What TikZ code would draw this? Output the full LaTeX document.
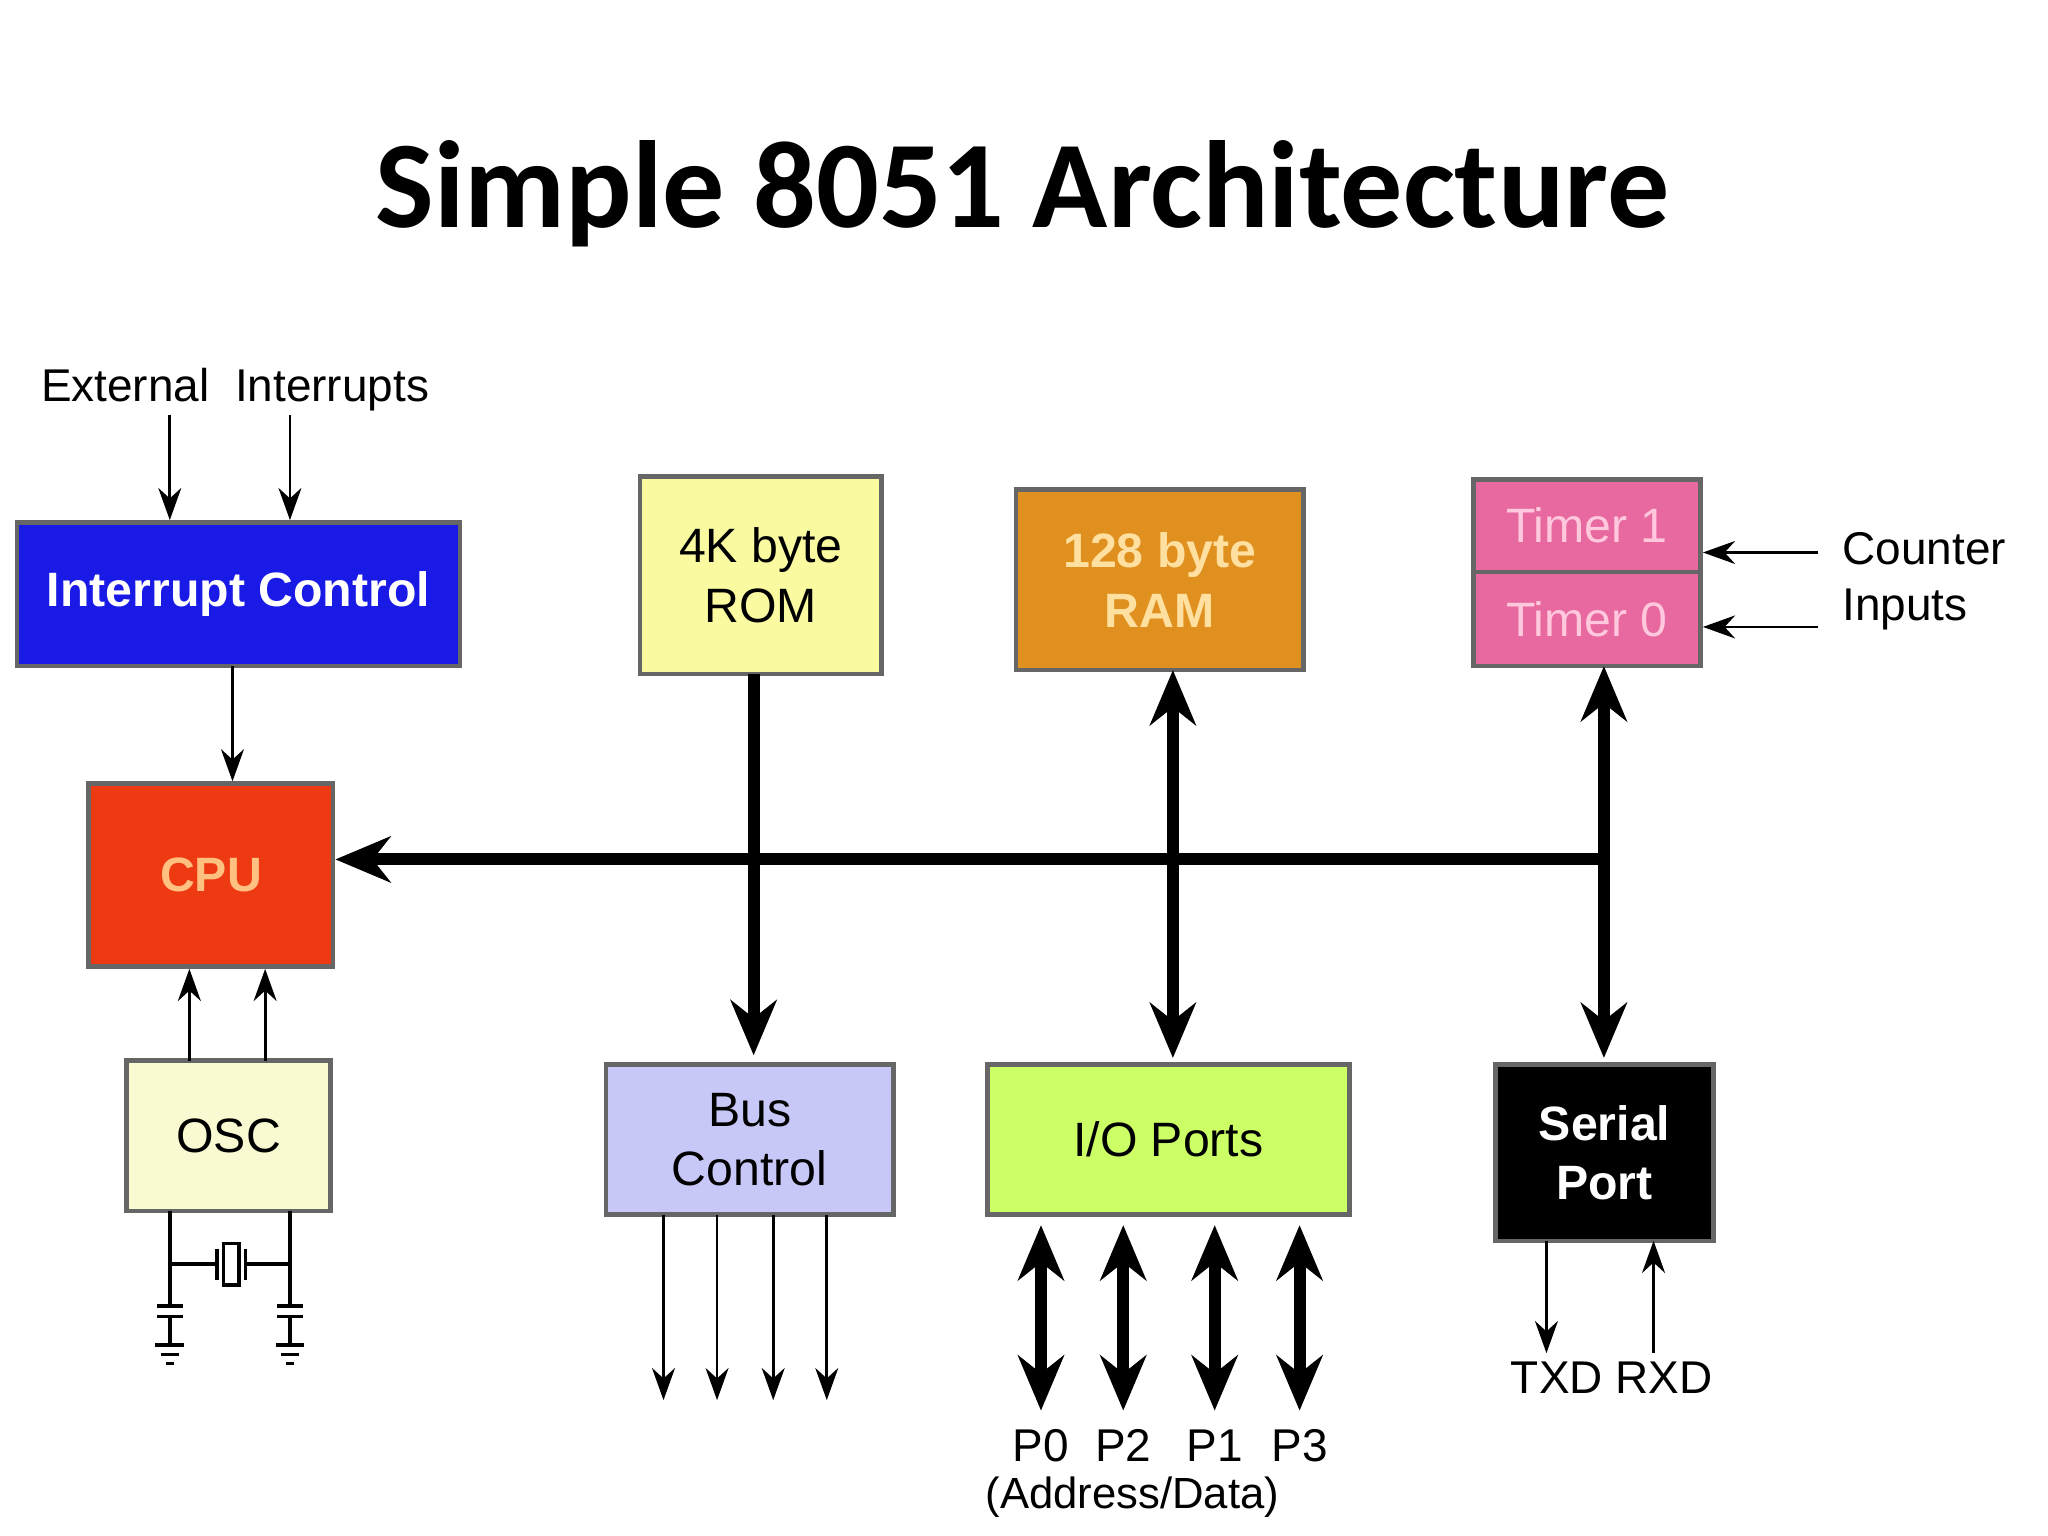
\documentclass[tikz,border=0pt]{standalone}
\usepackage{fontspec}
\setmainfont{Liberation Sans}
\newfontfamily\titlefont{Carlito}
\usetikzlibrary{arrows.meta}
\definecolor{icblue}{HTML}{1A1AE6}
\definecolor{cpured}{HTML}{EE3A12}
\definecolor{cputxt}{HTML}{FFC080}
\definecolor{oscyel}{HTML}{FAFAD2}
\definecolor{romyel}{HTML}{FAFAA0}
\definecolor{ramorg}{HTML}{E0901E}
\definecolor{ramtxt}{HTML}{FFE0A0}
\definecolor{tmpink}{HTML}{E868A0}
\definecolor{tmtxt}{HTML}{FFC8DC}
\definecolor{buslav}{HTML}{C8C8F8}
\definecolor{iogrn}{HTML}{CCFF66}
\begin{document}
\begin{tikzpicture}[x=0.01cm,y=-0.01cm,
  box/.style={draw=black!60,line width=1pt,inner sep=0pt,align=center,font=\fontsize{10.5}{13}\selectfont},
  bbox/.style={box,font=\bfseries\fontsize{10.5}{13}\selectfont},
  thin arrow/.style={-{Stealth[length=7pt,width=5pt]},line width=0.6pt},
  bus/.style={line width=2.6pt,-{Stealth[length=12pt,width=10pt]}},
  dbus/.style={line width=2.6pt,{Stealth[length=12pt,width=10pt]}-{Stealth[length=12pt,width=10pt]}},
  lbl/.style={inner sep=0pt,font=\fontsize{10}{12}\selectfont}]
\useasboundingbox (0,0) rectangle (1568,1176);
\fill[white] (0,0) rectangle (1568,1176);

\node[inner sep=0pt,font=\titlefont\bfseries\fontsize{27}{32}\selectfont] (title) at (783,148) {Simple 8051 Architecture};

% boxes
\node[bbox,fill=icblue,text=white,minimum width=3.39cm,minimum height=1.10cm] (ic) at (182.5,455) {Interrupt\ Control};
\node[bbox,fill=cpured,text=cputxt,minimum width=1.87cm,minimum height=1.40cm] (cpu) at (161.5,670) {CPU};
\node[box,fill=oscyel,minimum width=1.56cm,minimum height=1.15cm] (osc) at (175,869.5) {OSC};
\node[box,fill=romyel,minimum width=1.85cm,minimum height=1.51cm] (rom) at (582.5,440.5) {4K byte\\ROM};
\node[bbox,fill=ramorg,text=ramtxt,minimum width=2.20cm,minimum height=1.38cm] (ram) at (888,444) {128 byte\\RAM};
\node[box,fill=tmpink,text=tmtxt,minimum width=1.74cm,minimum height=0.71cm] (t1) at (1215,402.5) {Timer 1};
\node[box,fill=tmpink,text=tmtxt,minimum width=1.74cm,minimum height=0.72cm] (t0) at (1215,474) {Timer 0};
\node[box,fill=buslav,minimum width=2.20cm,minimum height=1.15cm] (bc) at (574,872.5) {Bus\\Control};
\node[box,fill=iogrn,minimum width=2.77cm,minimum height=1.15cm] (io) at (894.5,872.5) {I/O Ports};
\node[bbox,fill=black,text=white,minimum width=1.67cm,minimum height=1.35cm] (sp) at (1228.5,882.5) {Serial\\Port};

% labels
\node[lbl] (ext) at (180,298) {External\ \ Interrupts};
\node[lbl,anchor=west] (cnt1) at (1410,420) {Counter};
\node[lbl,anchor=west] (cnt2) at (1410,467) {Inputs};
\coordinate (e1) at (130,318); \coordinate (e2) at (222,318);
\draw[thin arrow] (e1) -- (e1|-ic.north);
\draw[thin arrow] (e2) -- (e2|-ic.north);
\coordinate (icc) at (178,510); \coordinate (o1) at (145,812); \coordinate (o2) at (203,812);
\draw[thin arrow] (icc) -- (icc|-cpu.north);
\draw[thin arrow] (o1) -- (o1|-cpu.south);
\draw[thin arrow] (o2) -- (o2|-cpu.south);
\coordinate (c1) at (1392,423); \coordinate (c0) at (1392,480);
\draw[thin arrow] (c1) -- (t1.east|-c1);
\draw[thin arrow] (c0) -- (t0.east|-c0);

% buses
\coordinate (jn) at (1228,658);
\draw[bus] (jn) -- (cpu.east|-jn);
\draw[bus] (577,516) -- (577,808);
\draw[dbus] (898,513) -- (898,810);
\draw[dbus] (1228,510) -- (1228,810);

% bus control outputs
\foreach \x in {508,549,592,633}
  \draw[thin arrow] (\x,930) -- (\x,1072);
% io ports
\foreach \x/\t in {797/P0,860/P2,930/P1,995/P3}{
  \draw[dbus] (\x,938) -- (\x,1080);
  \node[lbl] at (\x,1107) {\t};}
\node[lbl,font=\fontsize{9.5}{11}\selectfont] (ad) at (867,1146) {(Address/Data)};
% serial
\draw[thin arrow] (1184,950) -- (1184,1036);
\draw[thin arrow] (1266,1036) -- (1266,950);
\node[lbl] (txd) at (1192,1055) {TXD};
\node[lbl] (rxd) at (1274,1055) {RXD};

% crystal and capacitors
\begin{scope}[line width=0.8pt]
\draw (130,927) -- (130,1000) (222,927) -- (222,1000);
\draw (130,968) -- (166,968) (188,968) -- (222,968);
\draw (166,956) -- (166,980) (188,956) -- (188,980);
\draw (171,952) rectangle (183,984);
\foreach \x in {130,222}{
  \draw (\x-10,1000) -- (\x+10,1000) (\x-10,1008) -- (\x+10,1008);
  \draw (\x,1008) -- (\x,1030);
  \draw (\x-11,1030) -- (\x+11,1030) (\x-7,1037) -- (\x+7,1037) (\x-3,1044) -- (\x+3,1044);}
\end{scope}
\end{tikzpicture}
\end{document}
